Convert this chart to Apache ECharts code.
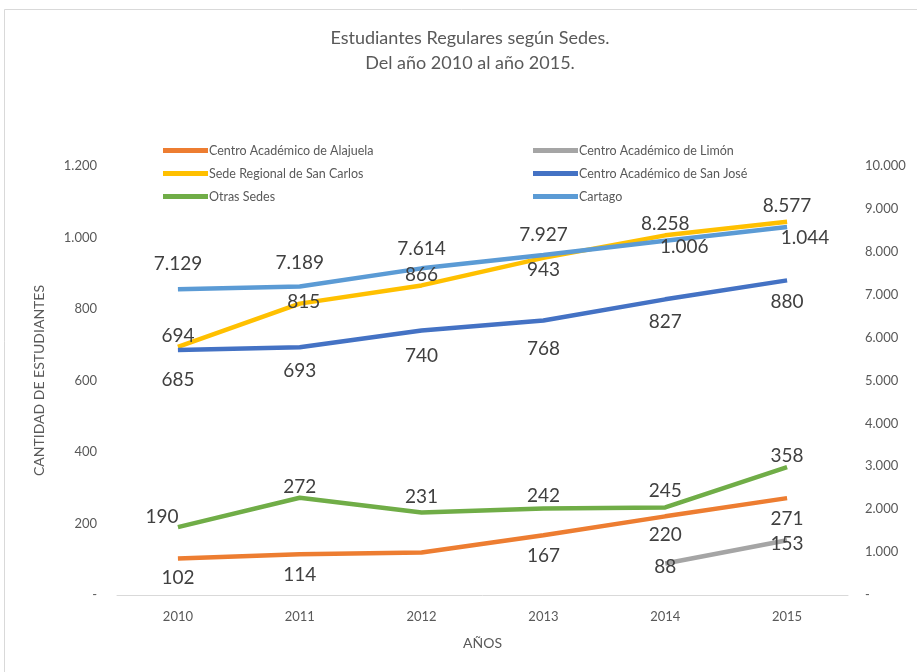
<!DOCTYPE html>
<html>
<head>
<meta charset="utf-8">
<script src="https://cdn.jsdelivr.net/npm/echarts@6/dist/echarts.min.js"></script>
<style>
    html, body {
        margin: 0;
        padding: 0;
        background: #fff;
    }
    #chart {
        width: 917px;
        height: 672px;
    }
</style>
</head>
<body>
<div id="chart"></div>
<script>
var years = ['2010', '2011', '2012', '2013', '2014', '2015']
var alajuela = [102, 114, 119, 167, 220, 271]
var limon = [null, null, null, null, 88, 153]
var sanCarlos = [694, 815, 866, 943, 1006, 1044]
var sanJose = [685, 693, 740, 768, 827, 880]
var otras = [190, 272, 231, 242, 245, 358]
var cartago = [7129, 7189, 7614, 7927, 8258, 8577]

var names = [
    'Centro Académico de Alajuela',
    'Centro Académico de Limón',
    'Sede Regional de San Carlos',
    'Centro Académico de San José',
    'Otras Sedes',
    'Cartago'
]
var colors = ['#ed7d31', '#a5a5a5', '#ffc000', '#4472c4', '#70ad47', '#5b9bd5']

var font = 'Lato, "Open Sans", sans-serif'

// 1234 -> "1.234", 0 -> "-"
function fmt(v) {
    if (v === 0) return '-'
    return String(v).replace(/\B(?=(\d{3})+(?!\d))/g, '.')
}

// where each data label sits, per point (null = no label)
function labeled(values, pos) {
    return values.map(function(v, i) {
        var p = pos.length > 1 ? pos[i] : pos[0]
        if (!p) return { value: v, label: { show: false } }
        return {
            value: v,
            label: { position: p[0], distance: p[1], offset: p[2] || [0, 0] }
        }
    })
}

var chart = echarts.init(document.getElementById('chart'))

function lineSeries(idx, values, pos, yAxisIndex) {
    return {
        name: names[idx],
        type: 'line',
        yAxisIndex: yAxisIndex || 0,
        data: labeled(values, pos),
        showSymbol: true,
        symbol: 'circle',
        symbolSize: 0,
        connectNulls: false,
        lineStyle: { width: 4.5, color: colors[idx] },
        itemStyle: { color: colors[idx] },
        label: {
            show: true,
            fontFamily: font,
            fontSize: 19,
            color: '#404040',
            formatter: function(p) { return fmt(p.value) }
        },
        z: 2
    }
}

var legendText = { fontFamily: font, fontSize: 12.5, color: '#595959', padding: [0, 0, 0, -4] }

var option = {
    animation: false,
    backgroundColor: '#fff',
    title: {
        text: 'Estudiantes Regulares según Sedes.\nDel año 2010 al año 2015.',
        left: 465,
        textAlign: 'center',
        top: 21,
        textStyle: {
            fontFamily: font,
            fontSize: 18,
            fontWeight: 'normal',
            color: '#595959',
            lineHeight: 25
        }
    },
    graphic: [
        {
            type: 'rect',
            shape: { x: 4.5, y: 9.5, width: 1000, height: 1000 },
            style: { fill: 'none', stroke: '#d9d9d9', lineWidth: 1 },
            z: -1
        }
    ],
    legend: [
        {
            orient: 'vertical',
            left: 158,
            top: 139,
            itemWidth: 45,
            itemHeight: 5,
            itemGap: 10,
            icon: 'rect',
            data: [names[0], names[2], names[4]],
            textStyle: legendText
        },
        {
            orient: 'vertical',
            left: 528,
            top: 139,
            itemWidth: 45,
            itemHeight: 5,
            itemGap: 10,
            icon: 'rect',
            data: [names[1], names[3], names[5]],
            textStyle: legendText
        }
    ],
    grid: {
        left: 117,
        right: 69,
        top: 166,
        bottom: 77
    },
    xAxis: {
        type: 'category',
        data: years,
        name: 'AÑOS',
        nameLocation: 'middle',
        nameGap: 41,
        nameTextStyle: { fontFamily: font, fontSize: 14, color: '#595959' },
        axisLine: { lineStyle: { color: '#d9d9d9', width: 1 } },
        axisTick: { show: false },
        axisLabel: { fontFamily: font, fontSize: 13, color: '#595959', margin: 15 }
    },
    yAxis: [
        {
            type: 'value',
            min: 0,
            max: 1200,
            interval: 200,
            name: 'CANTIDAD DE ESTUDIANTES',
            nameLocation: 'middle',
            nameGap: 71,
            nameTextStyle: { fontFamily: font, fontSize: 14, color: '#595959' },
            splitLine: { show: false },
            axisLine: { show: false },
            axisTick: { show: false },
            axisLabel: {
                fontFamily: font,
                fontSize: 13,
                color: '#595959',
                margin: 20,
                formatter: fmt
            }
        },
        {
            type: 'value',
            min: 0,
            max: 10000,
            interval: 1000,
            position: 'right',
            splitLine: { show: false },
            axisLine: { show: false },
            axisTick: { show: false },
            axisLabel: {
                fontFamily: font,
                fontSize: 13,
                color: '#595959',
                margin: 17,
                formatter: fmt
            }
        }
    ],
    series: [
        lineSeries(0, alajuela, [['bottom', 10], ['bottom', 11], null, ['bottom', 11], ['bottom', 9], ['bottom', 11]]),
        lineSeries(1, limon, [null, null, null, null, ['inside', 0, [0, 3]], ['inside', 0, [0, 4]]]),
        lineSeries(2, sanCarlos, [['top', 2], ['inside', 0, [4, -2]], ['top', 1], ['bottom', 2], ['bottom', 2, [19, 0]], ['bottom', 7, [18, 0]]]),
        lineSeries(3, sanJose, [['bottom', 20], ['bottom', 14], ['bottom', 16], ['bottom', 19], ['bottom', 13], ['bottom', 12]]),
        lineSeries(4, otras, [['top', 1, [-16, 0]], ['top', 1], ['top', 6], ['top', 3], ['top', 7], ['top', 2]]),
        lineSeries(5, cartago, [['top', 16], ['top', 14], ['top', 10], ['top', 11], ['top', 7], ['top', 12]], 1)
    ]
}

chart.setOption(option)
</script>
</body>
</html>
